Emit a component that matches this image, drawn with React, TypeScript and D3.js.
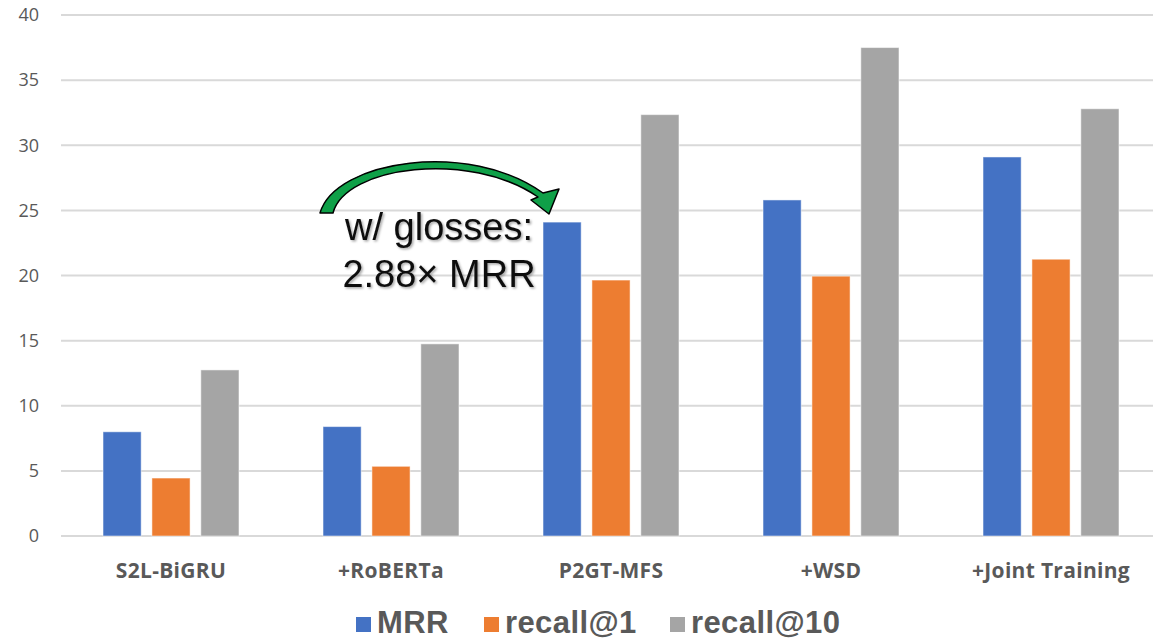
import React from "react";
import * as d3 from "d3";

const categories = ["S2L-BiGRU", "+RoBERTa", "P2GT-MFS", "+WSD", "+Joint Training"];
const seriesNames = ["MRR", "recall@1", "recall@10"];
const mrr = [8.0, 8.4, 24.1, 25.8, 29.1];
const recall1 = [4.45, 5.35, 19.65, 19.95, 21.25];
const recall10 = [12.75, 14.75, 32.35, 37.5, 32.8];
const yTicks = [0, 5, 10, 15, 20, 25, 30, 35, 40];
const colors = ["#4472C4", "#ED7D31", "#A5A5A5"];
const annotationLines = ["w/ glosses:", "2.88× MRR"];

export default function App() {
  const W = 1153, H = 641;
  const series = [mrr, recall1, recall10];
  const y = d3.scaleLinear().domain([0, 40]).range([536, 15]);
  const x0 = d3.scaleBand<string>().domain(categories).range([61, 1161]).paddingInner(0.382).paddingOuter(0.191);
  const x1 = d3.scaleBand<string>().domain(seriesNames).range([0, x0.bandwidth()]).paddingInner(0.22);

  const arrowPath =
    "M 320 213 C 335 160, 470 140, 543 193 L 559 189 L 549 214 L 531 200 L 538 197 C 470 150, 345 166, 333 213 Z";

  return (
    <svg width={W} height={H} style={{ position: "absolute", left: 0, top: 0, background: "#fff" }}>
      <defs>
        <filter id="shadow" x="-10%" y="-10%" width="120%" height="130%">
          <feDropShadow dx="1.5" dy="1.5" stdDeviation="1.2" floodColor="#000" floodOpacity="0.35" />
        </filter>
      </defs>
      {yTicks.map((t) => (
        <g key={t}>
          <line x1={61} x2={W} y1={y(t)} y2={y(t)} stroke="#D9D9D9" strokeWidth={2} />
          <text x={39} y={y(t)} dy="0.35em" textAnchor="end" fontFamily="'Open Sans', sans-serif" fontSize={18} fill="#595959">
            {t}
          </text>
        </g>
      ))}
      {categories.map((c, i) => (
        <g key={c} transform={`translate(${x0(c)},0)`}>
          {seriesNames.map((s, j) => (
            <rect
              key={s}
              x={x1(s)}
              y={y(series[j][i])}
              width={x1.bandwidth()}
              height={y(0) - y(series[j][i])}
              fill={colors[j]}
              stroke="#ffffff"
              strokeOpacity={0.5}
              strokeWidth={1}
            />
          ))}
          <text
            x={x0.bandwidth() / 2}
            y={578}
            textAnchor="middle"
            fontFamily="'Open Sans', sans-serif"
            fontWeight={700}
            fontSize={21}
            letterSpacing={0.3}
            fill="#595959"
          >
            {c}
          </text>
        </g>
      ))}
      <path d={arrowPath} fill="#0FA048" stroke="#000" strokeWidth={1.5} strokeLinejoin="round" />
      {annotationLines.map((l, i) => (
        <text
          key={l}
          x={439}
          y={240 + i * 47}
          textAnchor="middle"
          fontFamily="'Liberation Sans', Arial, sans-serif"
          fontSize={38}
          fill="#111"
          filter="url(#shadow)"
        >
          {l}
        </text>
      ))}
      {(() => {
        const starts = [356, 484, 670];
        return seriesNames.map((s, j) => (
          <g key={s}>
            <rect x={starts[j]} y={617} width={15} height={15} fill={colors[j]} />
            <text
              x={starts[j] + 21}
              y={633}
              fontFamily="'Liberation Sans', Arial, sans-serif"
              fontWeight={700}
              fontSize={31}
              letterSpacing={0.4}
              fill="#595959"
            >
              {s}
            </text>
          </g>
        ));
      })()}
    </svg>
  );
}
